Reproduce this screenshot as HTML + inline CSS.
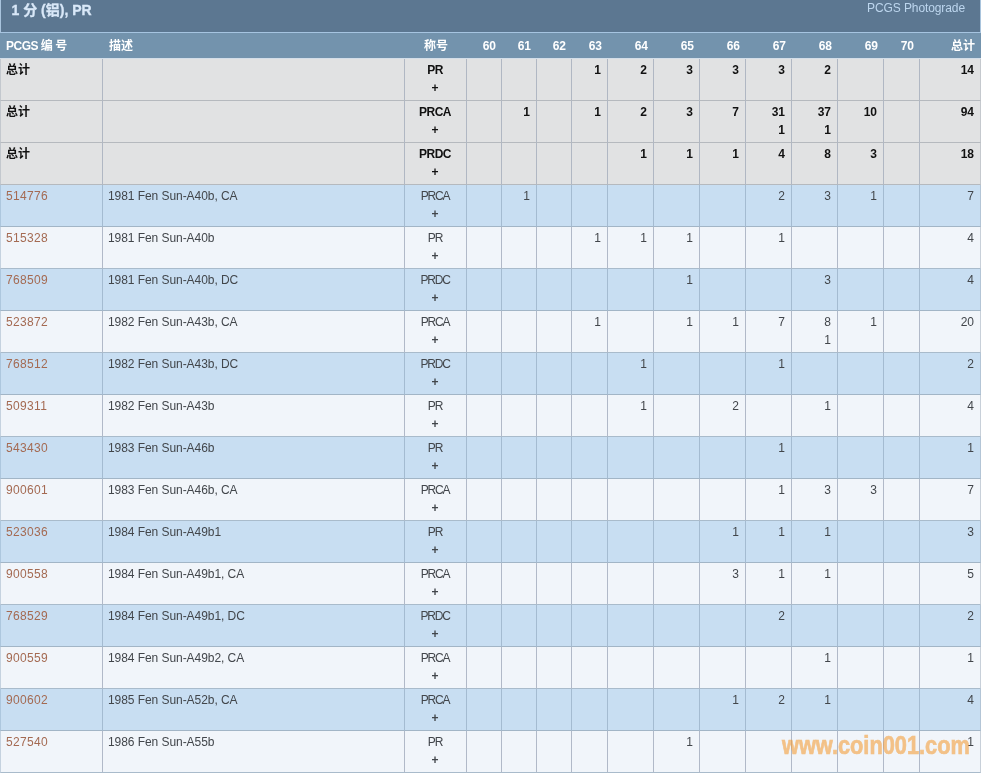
<!DOCTYPE html>
<html lang="zh-CN">
<head>
<meta charset="utf-8">
<title>1 分 (铝), PR</title>
<style>
html,body{margin:0;padding:0;background:#fff;}
body{width:982px;height:773px;overflow:hidden;position:relative;font-family:"Liberation Sans","Noto Sans CJK SC",sans-serif;font-size:12px;color:#42464b;}
.title{transform:translateZ(0);will-change:transform;position:absolute;left:0;top:0;width:979px;height:32px;background:#5c7791;border-left:1px solid #a9c4dd;border-right:1px solid #a9c4dd;border-bottom:1px solid #a6c4e0;}
.title .t{-webkit-text-stroke:0.3px #d9e8f8;position:absolute;left:10.5px;top:1px;font-size:14px;font-weight:bold;color:#d9e8f8;line-height:18px;white-space:nowrap;}
.title .pg{position:absolute;right:15px;top:0px;font-size:12px;color:#bdd6ee;line-height:16px;white-space:nowrap;letter-spacing:-0.1px;}
table{transform:translateZ(0);will-change:transform;position:absolute;left:0;top:33px;width:981px;border-collapse:separate;border-spacing:0;table-layout:fixed;}
th{height:25px;padding:2px 6px 0 0;box-sizing:border-box;height:26px;background:#7393ad;color:#fff;font-weight:bold;font-size:12px;text-align:right;line-height:23px;border-bottom:1px solid #d3dee9;white-space:nowrap;overflow:hidden;}
th.l{text-align:left;padding:2px 0 0 6px;}
th.first{letter-spacing:-0.5px;}
th.c{text-align:center;padding:2px 0 0 0;}
td{height:42px;box-sizing:border-box;padding:2px 6px 0 0;vertical-align:top;text-align:right;line-height:18px;border-right:1px solid #93a6bc;border-bottom:1px solid #93a6bc;white-space:nowrap;overflow:hidden;}
td.l{text-align:left;padding:2px 0 0 6px;}
td.d{letter-spacing:-0.06px;padding-left:5px;}
td.first{border-left:1px solid #c9d6e3;padding-left:5px;}
td.c{text-align:center;padding:2px 1px 0 0;letter-spacing:-1.2px;}
tr.tot td{background:#e1e2e3;font-weight:bold;color:#111;border-right-color:#b0b7c3;border-bottom-color:#b5b9be;}
tr.tot td.c{letter-spacing:-0.5px;}
tr.tot td.first{border-left-color:#c3c8ce;}
tr.odd td{background:#c8def2;border-right-color:#a4bbd1;border-bottom-color:#a2b5c6;}
tr.odd td.first{border-left-color:#adc7de;}
tr.even td{background:#f1f5fa;border-right-color:#b1b9c8;border-bottom-color:#a9bbcb;}
tr.even td.first{border-left-color:#c5d2df;}
td a{color:#a46a52;letter-spacing:0.35px;}
td b{font-weight:bold;letter-spacing:0;}
.wm{position:absolute;left:782px;top:730px;font-size:25px;font-weight:bold;line-height:30px;color:#f49628;-webkit-text-stroke:0.7px #f49628;opacity:0.55;white-space:nowrap;transform:scaleX(0.87);transform-origin:0 0;}
tr.tot td:last-child{border-right-color:#c5c9ce;}
tr.odd td:last-child{border-right-color:#b3c5d6;}
tr.even td:last-child{border-right-color:#c8d0d9;}
</style>
</head>
<body>
<div class="title"><span class="t">1 分 (铝), PR</span><a class="pg">PCGS Photograde</a></div>
<table>
<colgroup><col style="width:103px"><col style="width:302px"><col style="width:62px"><col style="width:35px"><col style="width:35px"><col style="width:35px"><col style="width:36px"><col style="width:46px"><col style="width:46px"><col style="width:46px"><col style="width:46px"><col style="width:46px"><col style="width:46px"><col style="width:36px"><col style="width:61px"></colgroup>
<thead><tr><th class="l first">PCGS 编 号</th><th class="l">描述</th><th class="c">称号</th><th>60</th><th>61</th><th>62</th><th>63</th><th>64</th><th>65</th><th>66</th><th>67</th><th>68</th><th>69</th><th>70</th><th>总计</th></tr></thead>
<tbody>
<tr class="tot"><td class="l first">总计</td><td class="l d"></td><td class="c">PR<br><b>+</b></td><td></td><td></td><td></td><td>1</td><td>2</td><td>3</td><td>3</td><td>3</td><td>2</td><td></td><td></td><td>14</td></tr>
<tr class="tot"><td class="l first">总计</td><td class="l d"></td><td class="c">PRCA<br><b>+</b></td><td></td><td>1</td><td></td><td>1</td><td>2</td><td>3</td><td>7</td><td>31<br>1</td><td>37<br>1</td><td>10</td><td></td><td>94</td></tr>
<tr class="tot"><td class="l first">总计</td><td class="l d"></td><td class="c">PRDC<br><b>+</b></td><td></td><td></td><td></td><td></td><td>1</td><td>1</td><td>1</td><td>4</td><td>8</td><td>3</td><td></td><td>18</td></tr>
<tr class="odd"><td class="l first"><a>514776</a></td><td class="l d">1981 Fen Sun-A40b, CA</td><td class="c">PRCA<br><b>+</b></td><td></td><td>1</td><td></td><td></td><td></td><td></td><td></td><td>2</td><td>3</td><td>1</td><td></td><td>7</td></tr>
<tr class="even"><td class="l first"><a>515328</a></td><td class="l d">1981 Fen Sun-A40b</td><td class="c">PR<br><b>+</b></td><td></td><td></td><td></td><td>1</td><td>1</td><td>1</td><td></td><td>1</td><td></td><td></td><td></td><td>4</td></tr>
<tr class="odd"><td class="l first"><a>768509</a></td><td class="l d">1981 Fen Sun-A40b, DC</td><td class="c">PRDC<br><b>+</b></td><td></td><td></td><td></td><td></td><td></td><td>1</td><td></td><td></td><td>3</td><td></td><td></td><td>4</td></tr>
<tr class="even"><td class="l first"><a>523872</a></td><td class="l d">1982 Fen Sun-A43b, CA</td><td class="c">PRCA<br><b>+</b></td><td></td><td></td><td></td><td>1</td><td></td><td>1</td><td>1</td><td>7</td><td>8<br>1</td><td>1</td><td></td><td>20</td></tr>
<tr class="odd"><td class="l first"><a>768512</a></td><td class="l d">1982 Fen Sun-A43b, DC</td><td class="c">PRDC<br><b>+</b></td><td></td><td></td><td></td><td></td><td>1</td><td></td><td></td><td>1</td><td></td><td></td><td></td><td>2</td></tr>
<tr class="even"><td class="l first"><a>509311</a></td><td class="l d">1982 Fen Sun-A43b</td><td class="c">PR<br><b>+</b></td><td></td><td></td><td></td><td></td><td>1</td><td></td><td>2</td><td></td><td>1</td><td></td><td></td><td>4</td></tr>
<tr class="odd"><td class="l first"><a>543430</a></td><td class="l d">1983 Fen Sun-A46b</td><td class="c">PR<br><b>+</b></td><td></td><td></td><td></td><td></td><td></td><td></td><td></td><td>1</td><td></td><td></td><td></td><td>1</td></tr>
<tr class="even"><td class="l first"><a>900601</a></td><td class="l d">1983 Fen Sun-A46b, CA</td><td class="c">PRCA<br><b>+</b></td><td></td><td></td><td></td><td></td><td></td><td></td><td></td><td>1</td><td>3</td><td>3</td><td></td><td>7</td></tr>
<tr class="odd"><td class="l first"><a>523036</a></td><td class="l d">1984 Fen Sun-A49b1</td><td class="c">PR<br><b>+</b></td><td></td><td></td><td></td><td></td><td></td><td></td><td>1</td><td>1</td><td>1</td><td></td><td></td><td>3</td></tr>
<tr class="even"><td class="l first"><a>900558</a></td><td class="l d">1984 Fen Sun-A49b1, CA</td><td class="c">PRCA<br><b>+</b></td><td></td><td></td><td></td><td></td><td></td><td></td><td>3</td><td>1</td><td>1</td><td></td><td></td><td>5</td></tr>
<tr class="odd"><td class="l first"><a>768529</a></td><td class="l d">1984 Fen Sun-A49b1, DC</td><td class="c">PRDC<br><b>+</b></td><td></td><td></td><td></td><td></td><td></td><td></td><td></td><td>2</td><td></td><td></td><td></td><td>2</td></tr>
<tr class="even"><td class="l first"><a>900559</a></td><td class="l d">1984 Fen Sun-A49b2, CA</td><td class="c">PRCA<br><b>+</b></td><td></td><td></td><td></td><td></td><td></td><td></td><td></td><td></td><td>1</td><td></td><td></td><td>1</td></tr>
<tr class="odd"><td class="l first"><a>900602</a></td><td class="l d">1985 Fen Sun-A52b, CA</td><td class="c">PRCA<br><b>+</b></td><td></td><td></td><td></td><td></td><td></td><td></td><td>1</td><td>2</td><td>1</td><td></td><td></td><td>4</td></tr>
<tr class="even"><td class="l first"><a>527540</a></td><td class="l d">1986 Fen Sun-A55b</td><td class="c">PR<br><b>+</b></td><td></td><td></td><td></td><td></td><td></td><td>1</td><td></td><td></td><td></td><td></td><td></td><td>1</td></tr>
</tbody>
</table>
<div class="wm">www.coin001.com</div>
</body>
</html>
